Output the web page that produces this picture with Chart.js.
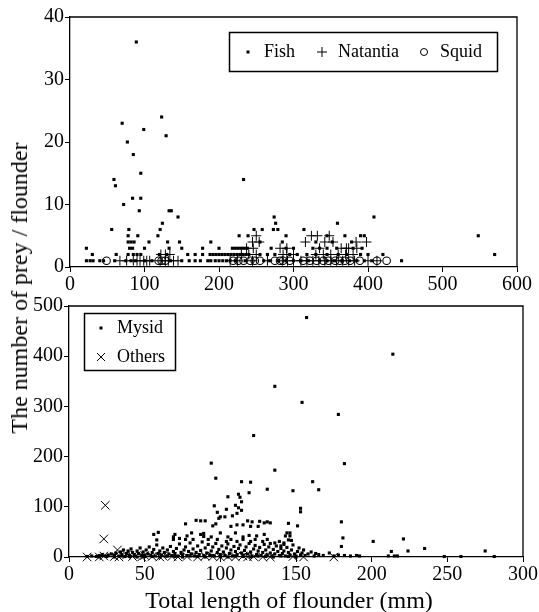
<!DOCTYPE html>
<html lang="en">
<head>
<meta charset="UTF-8">
<title>Number of prey per flounder</title>
<script src="https://cdn.jsdelivr.net/npm/chart.js"></script>
<style>
    body { margin: 0; background: white; font-family: "Liberation Serif", serif; }
    #wrap { position: relative; width: 539px; height: 612px; }
    #topChart { position: absolute; left: 0; top: 0; }
    #bottomChart { position: absolute; left: 0; top: 290px; }
    .ytitle {
        position: absolute; left: 19px; top: 288px;
        transform: translate(-50%, -50%) rotate(-90deg);
        white-space: nowrap; font-size: 24px; line-height: 1; color: #000;
    }
    .xtitle {
        position: absolute; left: 289px; top: 600px;
        transform: translate(-50%, -50%);
        white-space: nowrap; font-size: 24px; color: #000;
    }
</style>
</head>
<body>
<div id="wrap">
    <canvas id="topChart" width="539" height="292"></canvas>
    <canvas id="bottomChart" width="539" height="322"></canvas>
    <div class="ytitle">The number of prey / flounder</div>
    <div class="xtitle">Total length of flounder (mm)</div>
</div>

<script>
    // tick labels
    const topXTicks = [0, 100, 200, 300, 400, 500, 600];
    const topYTicks = [0, 10, 20, 30, 40];
    const bottomXTicks = [0, 50, 100, 150, 200, 250, 300];
    const bottomYTicks = [0, 100, 200, 300, 400, 500];

    // top panel: [total length, number of prey]
    const fish = [
        [89,36],[123,24],[70,23],[99,22],[129,21],[77,20],[85,18],[95,15],[59,14],[233,14],[61,13],
        [84,11],[95,11],[72,10],[93,9],[133,9],[136,9],[145,8],[274,8],[408,8],[124,7],[276,7],[359,7],
        [56,6],[79,6],[121,6],[247,6],[258,6],[273,6],[279,6],[314,6],
        [78,5],[91,5],[118,5],[227,5],[239,5],[290,5],[345,5],[369,5],[390,5],[395,5],[548,5],
        [78,4],[82,4],[86,4],[106,4],[131,4],[147,4],[189,4],[255,4],[285,4],[330,4],[352,4],[378,4],
        [22,3],[80,3],[84,3],[100,3],[133,3],[150,3],[178,3],[200,3],[218,3],[222,3],[226,3],[230,3],
        [234,3],[238,3],[270,3],[290,3],[300,3],[326,3],[335,3],[345,3],[358,3],[380,3],[392,3],
        [30,2],[62,2],[78,2],[85,2],[90,2],[95,2],[120,2],[130,2],[158,2],[168,2],[178,2],[188,2],
        [192,2],[196,2],[200,2],[204,2],[208,2],[212,2],[216,2],[220,2],[224,2],[228,2],[232,2],[236,2],
        [240,2],[255,2],[265,2],[275,2],[295,2],[305,2],[318,2],[330,2],[345,2],[360,2],[372,2],[390,2],
        [400,2],[420,2],[570,2],
        [22,1],[27,1],[31,1],[40,1],[45,1],[60,1],[75,1],[82,1],[88,1],[100,1],[110,1],[135,1],[150,1],
        [160,1],[168,1],[175,1],[185,1],[189,1],[195,1],[200,1],[205,1],[210,1],[215,1],[222,1],[235,1],
        [260,1],[268,1],[280,1],[290,1],[300,1],[310,1],[320,1],[335,1],[345,1],[355,1],[365,1],[375,1],
        [385,1],[395,1],[405,1],[445,1]
    ];
    const natantia = [
        [250,5],[324,5],[332,5],[348,5],
        [245,4],[254,4],[316,4],[342,4],[353,4],[384,4],[398,4],
        [237,3],[246,3],[282,3],[291,3],[335,3],[364,3],[371,3],[374,3],[385,3],
        [122,2],[128,2],[134,2],[230,2],[240,2],[250,2],[286,2],[291,2],[300,2],[330,2],[340,2],
        [350,2],[360,2],[370,2],[380,2],
        [67,1],[76,1],[85,1],[90,1],[94,1],[99,1],[103,1],[107,1],[121,1],[128,1],[132,1],[139,1],
        [145,1],[215,1],[225,1],[245,1],[265,1],[285,1],[292,1],[300,1],[310,1],[318,1],[326,1],
        [334,1],[342,1],[350,1],[358,1],[366,1],[374,1],[382,1],[400,1],[412,1]
    ];
    const squid = [
        [49,1],[119,1],[123,1],[128,1],[219,1],[226,1],[233,1],[242,1],[248,1],[255,1],[275,1],
        [282,1],[286,1],[295,1],[313,1],[322,1],[331,1],[340,1],[347,1],[356,1],[362,1],[369,1],
        [376,1],[389,1],[412,1],[425,1]
    ];

    // bottom panel
    const mysid = [
        [157,477],[214,404],[136,340],[154,308],[178,284],[122,242],[94,187],[182,186],[136,173],
        [97,157],[161,150],[114,150],[120,149],[165,134],[131,135],[148,132],[119,128],[112,125],
        [105,120],[113,119],[114,110],[110,103],[96,102],[153,97],[104,95],[112,98],[114,93],[98,89],
        [153,90],[111,87],[103,80],[108,82],[99,77],[100,80],[84,73],[87,72],[90,72],[118,72],[121,70],
        [126,71],[129,68],[131,70],[180,70],[145,67],[77,66],[97,66],[95,62],[107,61],[111,64],[115,64],
        [120,61],[125,61],[151,62],[133,68],
        [56,45],[59,49],[69,40],[58,34],[70,45],[78,42],[81,48],[87,45],[89,47],[94,40],[100,48],
        [105,40],[110,48],[115,40],[119,43],[124,42],[129,45],[144,48],[146,48],[143,42],[146,42],
        [145,34],[147,33],[181,38],[201,31],[221,36],[69,35],[73,37],[77,35],[82,35],[89,41],[92,35],
        [98,35],[104,31],[107,35],[111,31],[115,35],[120,31],[123,35],[128,31],[131,35],[136,28],
        [139,31],[142,28],[133,27],[140,22],[142,25],[180,21],[235,17],[224,12],[213,11],[275,12],[163,7],
        [190,3],[192,2],[211,2],[215,2],[217,2],[248,1],[259,1],[281,1],
        [12,1],[15,2],[18,1],[20,3],[22,5],[24,2],[26,4],[28,6],[30,3],[31,8],[33,2],[34,10],[35,5],
        [36,14],[37,1],[38,7],[39,12],[40,3],[41,16],[42,9],[43,5],[44,2],[45,12],[46,7],[47,18],[48,4],
        [49,10],[50,1],[51,14],[52,6],[53,20],[54,3],[55,9],[56,15],[57,2],[58,24],[59,7],[60,12],[61,4],
        [62,18],[63,9],[64,2],[65,14],[66,6],[67,21],[68,3],[69,11],[70,7],[71,17],[72,2],[73,26],[74,9],
        [75,5],[76,14],[77,20],[78,3],[79,11],[80,28],[81,6],[82,16],[83,2],[84,9],[85,22],[86,5],[87,13],
        [88,30],[89,3],[90,18],[91,8],[92,25],[93,4],[94,12],[95,20],[96,2],[97,27],[98,9],[99,15],[100,5],
        [101,22],[102,10],[103,3],[104,18],[105,26],[106,7],[107,14],[108,2],[109,21],[110,11],[111,5],
        [112,17],[113,24],[114,8],[115,3],[116,13],[117,20],[118,6],[119,27],[120,10],[121,2],[122,16],
        [123,23],[124,5],[125,12],[126,19],[127,3],[128,9],[129,25],[130,14],[131,4],[132,20],[133,8],
        [134,2],[135,15],[136,6],[137,22],[138,11],[139,3],[140,17],[141,7],[142,12],[143,2],[144,19],
        [145,9],[146,4],[147,14],[148,24],[149,6],[150,2],[151,11],[152,18],[153,4],[154,8],[155,14],
        [156,3],[158,6],[160,10],[162,2],[165,5],[168,3],[172,8],[175,2],[178,4],[182,3],[186,2],
        [20,0],[25,1],[30,0],[35,2],[40,1],[45,0],[50,3],[55,1],[60,0],[65,2],[70,1],[75,0],[80,2],
        [85,1],[90,0],[95,3],[100,1],[105,0],[110,2],[115,1],[120,0],[125,2],[130,1],[135,0],[140,2],
        [145,1],[150,0]
    ];
    const others = [
        [24,103],[23,36],[32,14],[12,0],[20,0],[23,2],[30,1],[33,0],[38,4],[42,1],[48,0],[50,3],
        [55,1],[60,0],[62,2],[68,1],[72,0],[78,1],[85,0],[90,2],[95,1],[100,0],[105,1],[110,0],
        [115,2],[118,0],[122,1],[128,0],[133,0],[148,1],[155,0],[175,0]
    ];

    const toXY = arr => arr.map(p => ({x: p[0], y: p[1]}));
    const tickFont = {family: 'Liberation Serif', size: 20};

    function axis(min, max, tickList, fitSize, horizontal) {
        return {
            type: 'linear', min: min, max: max,
            border: {display: true, color: '#000', width: 1.3},
            grid: {drawOnChartArea: false, drawTicks: true, tickLength: 5, color: '#000', tickWidth: 1},
            ticks: {color: '#000', font: tickFont, padding: 1, maxRotation: 0, autoSkip: false},
            afterBuildTicks: s => { s.ticks = tickList.map(v => ({value: v})); },
            afterFit: s => { if (horizontal) s.height = fitSize; else s.width = fitSize; }
        };
    }

    // top and right edges of the plot box
    const framePlugin = {
        id: 'frame',
        afterDraw(chart) {
            const {ctx, chartArea: a} = chart;
            ctx.save();
            ctx.strokeStyle = '#000';
            ctx.lineWidth = 1.3;
            ctx.beginPath();
            ctx.moveTo(a.left, a.top);
            ctx.lineTo(a.right, a.top);
            ctx.lineTo(a.right, a.bottom);
            ctx.stroke();
            ctx.restore();
        }
    };

    function marker(ctx, style, x, y) {
        ctx.beginPath();
        if (style === 'rect') {
            ctx.fillRect(x - 1.5, y - 1.5, 3, 3);
        } else if (style === 'cross') {
            ctx.moveTo(x - 5, y); ctx.lineTo(x + 5, y);
            ctx.moveTo(x, y - 5); ctx.lineTo(x, y + 5);
            ctx.stroke();
        } else if (style === 'circle') {
            ctx.arc(x, y, 3.5, 0, Math.PI * 2);
            ctx.stroke();
        } else if (style === 'crossRot') {
            ctx.moveTo(x - 4, y - 4); ctx.lineTo(x + 4, y + 4);
            ctx.moveTo(x + 4, y - 4); ctx.lineTo(x - 4, y + 4);
            ctx.stroke();
        }
    }

    // legend box drawn inside the plot
    function legendPlugin(box, items) {
        return {
            id: 'boxLegend',
            afterDraw(chart) {
                const ctx = chart.ctx;
                ctx.save();
                ctx.fillStyle = '#fff';
                ctx.fillRect(box.x, box.y, box.w, box.h);
                ctx.strokeStyle = '#000';
                ctx.lineWidth = 1.5;
                ctx.strokeRect(box.x, box.y, box.w, box.h);
                ctx.font = '18px "Liberation Serif"';
                ctx.textBaseline = 'middle';
                ctx.lineWidth = 1;
                items.forEach(it => {
                    ctx.fillStyle = '#000';
                    marker(ctx, it.style, it.mx, it.y);
                    ctx.fillText(it.text, it.tx, it.y);
                });
                ctx.restore();
            }
        };
    }

    const baseOptions = {
        responsive: false,
        animation: false,
        plugins: {legend: {display: false}, tooltip: {enabled: false}}
    };

    new Chart(document.getElementById('topChart'), {
        type: 'scatter',
        data: {
            datasets: [{
                label: 'Fish', data: toXY(fish), clip: false,
                pointStyle: 'rect', pointRadius: 2.2, backgroundColor: '#000', borderColor: '#000', borderWidth: 0
            }, {
                label: 'Natantia', data: toXY(natantia), clip: false,
                pointStyle: 'cross', pointRadius: 5, borderColor: '#000', borderWidth: 1
            }, {
                label: 'Squid', data: toXY(squid), clip: false,
                pointStyle: 'circle', pointRadius: 3.8, backgroundColor: 'rgba(0,0,0,0)', borderColor: '#000', borderWidth: 1.1
            }]
        },
        options: Object.assign({}, baseOptions, {
            layout: {padding: {top: 17, right: 22, bottom: 0, left: 0}},
            scales: {
                x: axis(0, 600, topXTicks, 25, true),
                y: axis(0, 40, topYTicks, 70, false)
            }
        }),
        plugins: [framePlugin, legendPlugin({x: 229.5, y: 32.5, w: 268, h: 39}, [
            {style: 'rect', mx: 248, tx: 264, y: 52, text: 'Fish'},
            {style: 'cross', mx: 322, tx: 338, y: 52, text: 'Natantia'},
            {style: 'circle', mx: 424, tx: 440, y: 52, text: 'Squid'}
        ])]
    });

    new Chart(document.getElementById('bottomChart'), {
        type: 'scatter',
        data: {
            datasets: [{
                label: 'Mysid', data: toXY(mysid), clip: false,
                pointStyle: 'rect', pointRadius: 2.2, backgroundColor: '#000', borderColor: '#000', borderWidth: 0
            }, {
                label: 'Others', data: toXY(others), clip: false,
                pointStyle: 'crossRot', pointRadius: 6, borderColor: '#000', borderWidth: 1
            }]
        },
        options: Object.assign({}, baseOptions, {
            layout: {padding: {top: 16, right: 15, bottom: 0, left: 0}},
            scales: {
                x: axis(0, 300, bottomXTicks, 55, true),
                y: axis(0, 500, bottomYTicks, 69, false)
            }
        }),
        plugins: [framePlugin, legendPlugin({x: 84.5, y: 23.5, w: 91, h: 57}, [
            {style: 'rect', mx: 101, tx: 117, y: 38, text: 'Mysid'},
            {style: 'crossRot', mx: 101, tx: 117, y: 67, text: 'Others'}
        ])]
    });
</script>
</body>
</html>
